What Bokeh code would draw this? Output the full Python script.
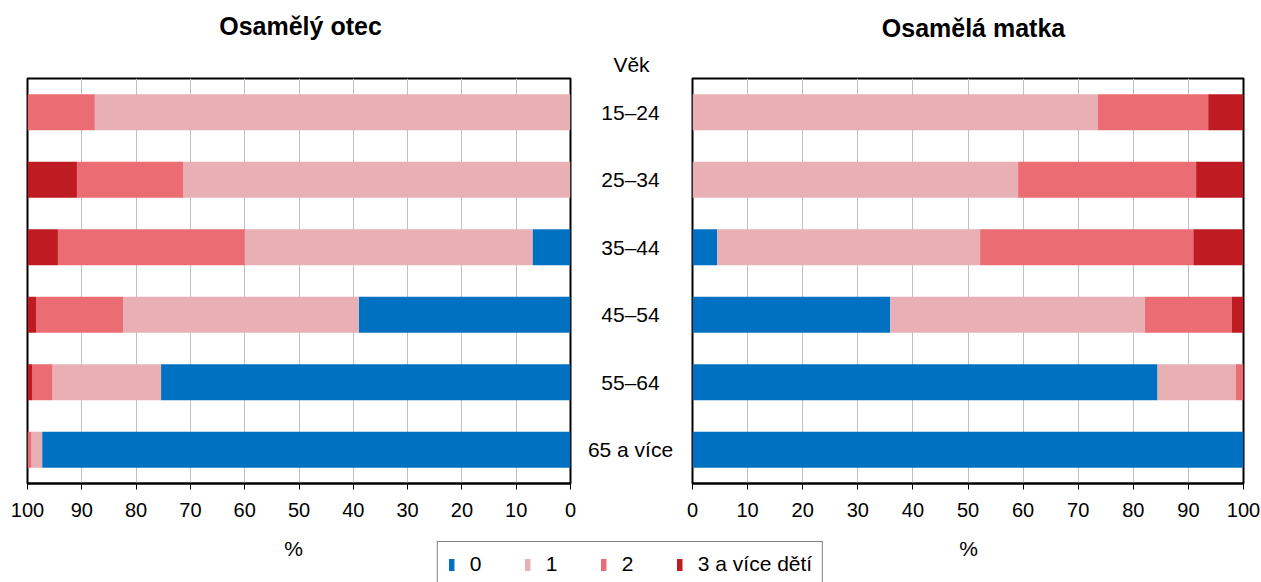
from bokeh.plotting import figure
from bokeh.models import ColumnDataSource, FactorRange, Range1d, FixedTicker
from bokeh.layouts import row, column
from bokeh.core.properties import value
from bokeh.embed import file_html
from bokeh.resources import INLINE

# ---------------- data ----------------
ages = ["15–24", "25–34", "35–44", "45–54", "55–64", "65 a více"]
age_title = "Věk"
series = ["0", "1", "2", "3 a více dětí"]
colors = ["#0070C0", "#E8B0B4", "#EB6C72", "#BE1B22"]

otec_0 = [0.0, 0.0, 7.0, 39.0, 75.4, 97.3]
otec_1 = [87.6, 71.3, 53.0, 43.4, 20.0, 2.0]
otec_2 = [12.4, 19.6, 34.4, 16.0, 3.7, 0.7]
otec_3 = [0.0, 9.1, 5.6, 1.6, 0.9, 0.0]

matka_0 = [0.0, 0.0, 4.5, 35.9, 84.4, 100.0]
matka_1 = [73.6, 59.1, 47.7, 46.2, 14.2, 0.0]
matka_2 = [20.0, 32.3, 38.7, 15.8, 1.4, 0.0]
matka_3 = [6.4, 8.6, 9.1, 2.1, 0.0, 0.0]

x_ticks = [0, 10, 20, 30, 40, 50, 60, 70, 80, 90, 100]
titles = ["Osamělý otec", "Osamělá matka"]
axis_unit = "%"

FONT = "Liberation Sans"
stackers = ["c0", "c1", "c2", "c3"]
y_factors = list(reversed(ages))

# layout constants (pixels)
W = 1260
HEAD = 77
TOP, FRAME_H, BOTTOM = 1, 405, 50
PANEL_H = TOP + FRAME_H + BOTTOM
LEG_H = 49


def panel(vals, x_range, width, mbl, mbr):
    src = ColumnDataSource(dict(age=ages, c0=vals[0], c1=vals[1], c2=vals[2], c3=vals[3]))
    p = figure(y_range=FactorRange(factors=y_factors), x_range=x_range,
               width=width, height=PANEL_H,
               min_border_left=mbl, min_border_right=mbr,
               min_border_top=TOP, min_border_bottom=BOTTOM,
               output_backend="svg", toolbar_location=None, y_axis_location=None)
    p.hbar_stack(stackers, y="age", height=0.533, color=colors, line_color=None, source=src)
    p.outline_line_color = "black"
    p.outline_line_width = 2
    p.outline_line_alpha = 1
    p.ygrid.visible = False
    p.xgrid.ticker = FixedTicker(ticks=x_ticks)
    p.xgrid.grid_line_color = "#c0c0c0"
    p.xgrid.grid_line_width = 1
    ax = p.xaxis[0]
    ax.ticker = FixedTicker(ticks=x_ticks)
    ax.axis_line_color = "black"
    ax.axis_line_width = 2
    ax.major_tick_in = 0
    ax.major_tick_out = 6
    ax.major_tick_line_color = "black"
    ax.minor_tick_line_color = None
    ax.major_label_text_font = FONT
    ax.major_label_text_font_size = "20px"
    ax.major_label_text_color = "black"
    ax.major_label_standoff = 13
    p.background_fill_color = "white"
    p.border_fill_color = "white"
    return p


left = panel([otec_0, otec_1, otec_2, otec_3], Range1d(100, 0), 578, 27, 8)
right = panel([matka_0, matka_1, matka_2, matka_3], Range1d(0, 100), 578, 10, 17)

# header: panel titles and the age heading
head = figure(x_range=Range1d(0, W), y_range=Range1d(HEAD, 0), width=W, height=HEAD,
              min_border=0, output_backend="svg", toolbar_location=None,
              x_axis_location=None, y_axis_location=None)
head.grid.visible = False
head.outline_line_color = None
head.text(x=[300, 973], y=[25, 27], text=titles, text_align="center", text_baseline="middle",
          text_font=value(FONT), text_font_size="25px", text_font_style="bold", text_color="black")
head.text(x=[631], y=[64], text=[age_title], text_align="center", text_baseline="middle",
          text_font=value(FONT), text_font_size="21px", text_color="black")

# middle: age labels
mid = figure(y_range=FactorRange(factors=y_factors), x_range=Range1d(0, 1),
             width=104, height=PANEL_H, min_border_left=0, min_border_right=0,
             min_border_top=TOP, min_border_bottom=BOTTOM,
             output_backend="svg", toolbar_location=None,
             x_axis_location=None, y_axis_location=None)
mid.grid.visible = False
mid.outline_line_color = None
msrc = ColumnDataSource(dict(age=ages))
mid.text(x=0.5, y="age", text="age", source=msrc, text_align="center", text_baseline="middle",
         text_font=value(FONT), text_font_size="21px", text_color="black")

# bottom: legend and axis units
leg = figure(x_range=Range1d(0, W), y_range=Range1d(LEG_H, 0), width=W, height=LEG_H,
             min_border=0, output_backend="svg", toolbar_location=None,
             x_axis_location=None, y_axis_location=None)
leg.grid.visible = False
leg.outline_line_color = None
lsrc = ColumnDataSource(dict(y=list(range(len(ages))), c0=matka_0, c1=matka_1, c2=matka_2, c3=matka_3))
rs = leg.hbar_stack(stackers, y="y", height=0.5, color=colors, line_color=None,
                    source=lsrc, legend_label=series)
for r in rs:
    r.visible = False
leg.text(x=[293, 968], y=[15, 15], text=[axis_unit, axis_unit], text_align="center",
         text_baseline="middle", text_font=value(FONT), text_font_size="21px", text_color="black")
lg = leg.legend[0]
lg.location = "top_center"
lg.orientation = "horizontal"
lg.margin = 8
lg.padding = 10
lg.spacing = 34
lg.label_width = 20
lg.label_standoff = 15
lg.glyph_width = 7
lg.glyph_height = 15
lg.label_text_font = FONT
lg.label_text_font_size = "21px"
lg.label_text_color = "black"
lg.border_line_color = "black"
lg.border_line_width = 1
lg.background_fill_color = "white"
lg.background_fill_alpha = 1
lg.inactive_fill_alpha = 0

layout = column(head, row(left, mid, right, spacing=0), leg, spacing=0)
open("out.html", "w").write(file_html(layout, INLINE))
